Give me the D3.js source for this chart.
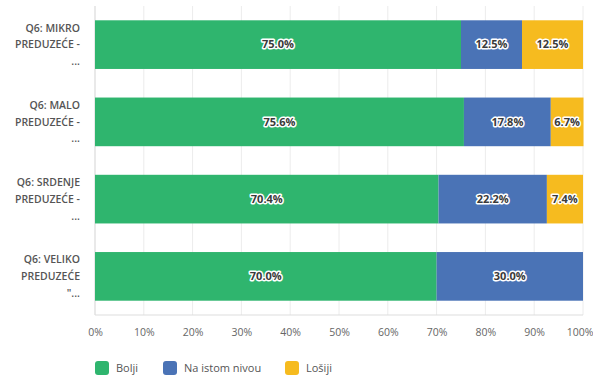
<!DOCTYPE html>
<html><head><meta charset="utf-8">
<script src="https://cdn.jsdelivr.net/npm/d3@7"></script>
<style>body{margin:0;background:#fff}svg{display:block}</style>
</head><body>
<script>
const categories = [
  ["Q6: MIKRO","PREDUZEĆE -","..."],
  ["Q6: MALO","PREDUZEĆE -","..."],
  ["Q6: SRDENJE","PREDUZEĆE -","..."],
  ["Q6: VELIKO","PREDUZEĆE","\"..."]
];
const seriesNames = ["Bolji","Na istom nivou","Lošiji"];
const bolji = [75.0, 75.6, 70.4, 70.0];
const naIstomNivou = [12.5, 17.8, 22.2, 30.0];
const losiji = [12.5, 6.7, 7.4, 0];
const tickValues = [0,10,20,30,40,50,60,70,80,90,100];
const colors = ["#2fb56e","#4a73b6","#f6bb1f"];

const W=593,H=380;
const m={left:95,right:10,top:6,bottom:65};
const svg=d3.select("body").append("svg").attr("width",W).attr("height",H)
  .style("font-family","'Open Sans',sans-serif");
const x=d3.scaleLinear().domain([0,100]).range([m.left,W-m.right]);
const y=d3.scaleBand().domain(d3.range(categories.length)).range([m.top,H-m.bottom])
  .paddingInner(0.37).paddingOuter(0.185);

// grid
svg.append("g").selectAll("line").data(tickValues).join("line")
  .attr("x1",d=>x(d)).attr("x2",d=>x(d)).attr("y1",m.top).attr("y2",H-m.bottom)
  .attr("stroke","#ececec").attr("stroke-width",1);
svg.append("line").attr("x1",x(0)).attr("x2",x(100)).attr("y1",H-m.bottom).attr("y2",H-m.bottom)
  .attr("stroke","#ddd");
svg.append("line").attr("x1",x(0)).attr("x2",x(0)).attr("y1",m.top).attr("y2",H-m.bottom)
  .attr("stroke","#ddd");

// x axis
const xa=svg.append("g").attr("transform",`translate(0,${H-m.bottom})`)
  .call(d3.axisBottom(x).tickValues(tickValues).tickFormat(d=>d+"%").tickSize(0).tickPadding(14));
xa.select(".domain").remove();
xa.selectAll("text").attr("fill","#666").attr("font-size",10.5).attr("font-family","'Open Sans',sans-serif");
xa.selectAll("text").filter(d=>d===100).attr("text-anchor","end").attr("x",10);

// stacks
const series=[bolji,naIstomNivou,losiji];
const rows=categories.map((c,i)=>{let acc=0;return series.map((s,k)=>{const r={i,k,v:s[i],x0:acc,x1:acc+s[i]};acc+=s[i];return r;});});
const segs=rows.flat().filter(d=>d.v>0);
svg.append("g").selectAll("rect").data(segs).join("rect")
  .attr("x",d=>x(d.x0)).attr("width",d=>x(d.x1)-x(d.x0))
  .attr("y",d=>y(d.i)).attr("height",y.bandwidth())
  .attr("fill",d=>colors[d.k]);
const lab=svg.append("g").selectAll("text").data(segs).join("text")
  .attr("x",d=>(x(d.x0)+x(d.x1))/2).attr("y",d=>y(d.i)+y.bandwidth()/2)
  .attr("dy","0.35em").attr("text-anchor","middle")
  .attr("font-size",11).attr("font-weight","bold")
  .attr("fill","#3a3a3a").attr("stroke","#fff").attr("stroke-width",3)
  .attr("paint-order","stroke").attr("stroke-linejoin","round")
  .text(d=>d.v.toFixed(1)+"%");

// y labels
const yl=svg.append("g").selectAll("text").data(categories).join("text")
  .attr("x",m.left-15).attr("y",(d,i)=>y(i)+y.bandwidth()/2)
  .attr("text-anchor","end").attr("font-size",10.5).attr("font-weight","600").attr("fill","#555");
yl.selectAll("tspan").data(d=>d).join("tspan")
  .attr("x",m.left-15).attr("dy",(d,j)=>j===0?"-1.25em":"1.6em").text(d=>d);

// legend
const lx=[95,163,285];
const lg=svg.append("g").selectAll("g").data(seriesNames).join("g")
  .attr("transform",(d,i)=>`translate(${lx[i]},368)`);
lg.append("rect").attr("x",0).attr("y",-7).attr("width",14).attr("height",14).attr("rx",3)
  .attr("fill",(d,i)=>colors[i]);
lg.append("text").attr("x",21).attr("dy","0.35em").attr("font-size",11).attr("fill","#555").text(d=>d);
</script>
</body></html>
